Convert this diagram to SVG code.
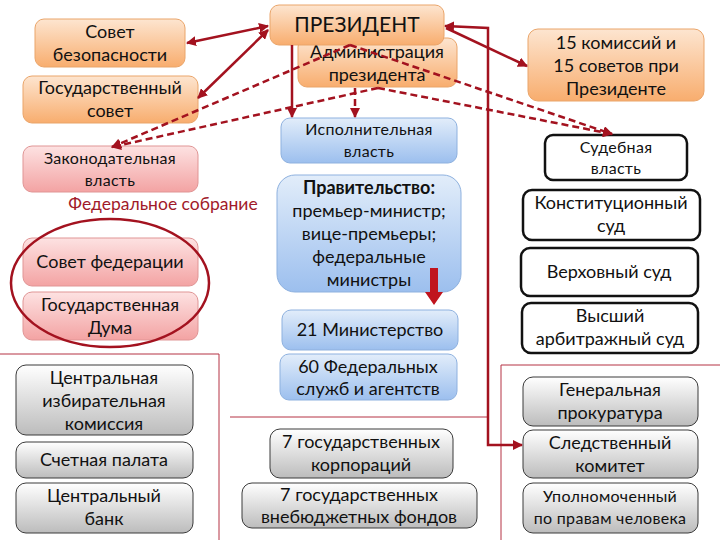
<svg xmlns="http://www.w3.org/2000/svg" width="720" height="540" viewBox="0 0 720 540">
<defs>
<linearGradient id="gOr" x1="0" y1="0" x2="0" y2="1"><stop offset="0" stop-color="#fde5d0"/><stop offset="1" stop-color="#f8ad6e"/></linearGradient>
<linearGradient id="gPk" x1="0" y1="0" x2="0" y2="1"><stop offset="0" stop-color="#fde2e2"/><stop offset="1" stop-color="#f3a3a3"/></linearGradient>
<linearGradient id="gBl" x1="0" y1="0" x2="0" y2="1"><stop offset="0" stop-color="#e2edfa"/><stop offset="1" stop-color="#9cbfee"/></linearGradient>
<linearGradient id="gGr" x1="0" y1="0" x2="0" y2="1"><stop offset="0" stop-color="#ffffff"/><stop offset="1" stop-color="#bcbcbc"/></linearGradient>
<marker id="ah" viewBox="0 0 10 10" refX="9" refY="5" markerWidth="4" markerHeight="4" orient="auto-start-reverse"><path d="M0,0 L10,5 L0,10 z" fill="#a3121f"/></marker>
</defs>
<style>
.or{fill:url(#gOr);stroke:#eaa56a;stroke-width:1}
.pk{fill:url(#gPk);stroke:#e09595;stroke-width:1}
.bl{fill:url(#gBl);stroke:#8eb1df;stroke-width:1}
.gr{fill:url(#gGr);stroke:#3a3a3a;stroke-width:1}
.jd{fill:#ffffff;stroke:#111;stroke-width:2.5}
text{font-family:Lato,"Open Sans","Liberation Sans",sans-serif;font-size:18px;fill:#111;text-anchor:middle}
.sm{font-size:16px;letter-spacing:0.3px}
.ttl{font-size:21px}
.fed{fill:#a11a2a;font-size:17.5px}
.b{font-weight:bold}
.thin{fill:none;stroke:#b53345;stroke-width:1}
.sol{fill:none;stroke:#a3121f;stroke-width:2.5}
.dsh{fill:none;stroke:#a3121f;stroke-width:2.5;stroke-dasharray:7,4}
</style>
<rect width="720" height="540" fill="#ffffff"/>

<g id="frames">
<path class="thin" d="M0,354 H219 V540"/>
<path class="thin" d="M230,417 H488"/>
<path class="thin" d="M720,365 H501 V540"/>
</g>

<g id="n-sovbez"><rect class="or" x="35" y="19" width="150" height="48" rx="9"/><text x="110" y="38">Совет</text><text x="110" y="61">безопасности</text></g>
<g id="n-gossovet"><rect class="or" x="23" y="76" width="175" height="47" rx="9"/><text x="110" y="94">Государственный</text><text x="110" y="117">совет</text></g>
<g id="n-zakon"><rect class="pk" x="23" y="146" width="175" height="46" rx="9"/><text class="sm" x="110" y="164">Законодательная</text><text class="sm" x="110" y="186">власть</text></g>
<g id="n-fedsobr"><text class="fed" x="163" y="210">Федеральное собрание</text></g>
<g id="n-sovfed"><rect class="pk" x="23" y="238" width="175" height="48" rx="9"/><text x="110" y="268">Совет федерации</text></g>
<g id="n-duma"><rect class="pk" x="23" y="292" width="175" height="48" rx="9"/><text x="110" y="311">Государственная</text><text x="110" y="334">Дума</text></g>
<g id="n-ellipse"><ellipse cx="110" cy="283" rx="99" ry="64" fill="none" stroke="#a3121f" stroke-width="2.5"/></g>

<g id="n-cik"><rect class="gr" x="16" y="365" width="177" height="70" rx="10"/><text x="104" y="384">Центральная</text><text x="104" y="407">избирательная</text><text x="104" y="430">комиссия</text></g>
<g id="n-schet"><rect class="gr" x="16" y="442" width="177" height="36" rx="10"/><text x="104" y="466">Счетная палата</text></g>
<g id="n-cb"><rect class="gr" x="16" y="483" width="177" height="50" rx="10"/><text x="104" y="502">Центральный</text><text x="104" y="525">банк</text></g>

<g id="n-admin"><rect class="or" x="298" y="38" width="159" height="49" rx="9"/><text x="377" y="58">Администрация</text><text x="377" y="81">президента</text></g>
<g id="n-pres"><rect class="or" x="270" y="5" width="174" height="40" rx="9"/><text class="ttl" x="357" y="32">ПРЕЗИДЕНТ</text></g>
<g id="n-isp"><rect class="bl" x="281" y="118" width="176" height="45" rx="9"/><text class="sm" x="369" y="135">Исполнительная</text><text class="sm" x="369" y="157">власть</text></g>
<g id="n-prav"><rect class="bl" x="277" y="175" width="184" height="117" rx="18"/><text class="b" x="369" y="194">Правительство:</text><text x="369" y="217">премьер-министр;</text><text x="369" y="240">вице-премьеры;</text><text x="369" y="263">федеральные</text><text x="369" y="286">министры</text></g>
<g id="n-arrow"><polygon points="430,268 438,268 438,292 443,292 434,305 425,292 430,292" fill="#c0141e"/></g>
<g id="n-min"><rect class="bl" x="282" y="310" width="176" height="40" rx="9"/><text x="370" y="336">21 Министерство</text></g>
<g id="n-fs"><rect class="bl" x="280" y="354" width="177" height="46" rx="9"/><text x="368" y="373">60 Федеральных</text><text x="368" y="395">служб и агентств</text></g>
<g id="n-gk"><rect class="gr" x="270" y="429" width="183" height="49" rx="10"/><text x="361" y="448">7 государственных</text><text x="361" y="471">корпораций</text></g>
<g id="n-vf"><rect class="gr" x="242" y="483" width="235" height="45" rx="10"/><text x="359" y="501">7 государственных</text><text x="359" y="523">внебюджетных фондов</text></g>

<g id="n-kom"><rect class="or" x="528" y="29" width="176" height="72" rx="10"/><text x="616" y="49">15 комиссий и</text><text x="616" y="72">15 советов при</text><text x="616" y="95">Президенте</text></g>
<g id="n-sud"><rect class="jd" x="545" y="135" width="142" height="45" rx="8"/><text class="sm" x="616" y="153">Судебная</text><text class="sm" x="616" y="174">власть</text></g>
<g id="n-ks"><rect class="jd" x="523" y="190" width="177" height="50" rx="9"/><text x="611" y="209">Конституционный</text><text x="611" y="232">суд</text></g>
<g id="n-vs"><rect class="jd" x="521" y="248" width="177" height="48" rx="9"/><text x="609" y="278">Верховный суд</text></g>
<g id="n-vas"><rect class="jd" x="522" y="303" width="176" height="50" rx="9"/><text x="610" y="322">Высший</text><text x="610" y="345">арбитражный суд</text></g>
<g id="n-gp"><rect class="gr" x="523" y="377" width="175" height="49" rx="10"/><text x="610" y="396">Генеральная</text><text x="610" y="419">прокуратура</text></g>
<g id="n-sk"><rect class="gr" x="523" y="430" width="175" height="48" rx="10"/><text x="610" y="449">Следственный</text><text x="610" y="472">комитет</text></g>
<g id="n-upol"><rect class="gr" x="523" y="483" width="175" height="50" rx="10"/><text class="sm" x="610" y="502">Уполномоченный</text><text class="sm" x="610" y="524">по правам человека</text></g>

<g id="connectors">
<path class="sol" d="M268,26 L187,43" marker-start="url(#ah)" marker-end="url(#ah)"/>
<path class="sol" d="M268,30 L198,98" marker-start="url(#ah)" marker-end="url(#ah)"/>
<path class="sol" d="M292,45 L292,117" marker-end="url(#ah)"/>
<path class="sol" d="M445,26 L488,28 L488,445 L522,445" marker-start="url(#ah)" marker-end="url(#ah)"/>
<path class="sol" d="M446,28 L527,66" marker-end="url(#ah)"/>
<path class="dsh" d="M350,45 L112,147" marker-end="url(#ah)"/>
<path class="dsh" d="M350,45 L612,134" marker-end="url(#ah)"/>
<path class="dsh" d="M378,88 L112,147" marker-end="url(#ah)"/>
<path class="dsh" d="M378,88 L612,134" marker-end="url(#ah)"/>
<path class="dsh" d="M355,88 L355,117" marker-end="url(#ah)"/>
</g>
</svg>
